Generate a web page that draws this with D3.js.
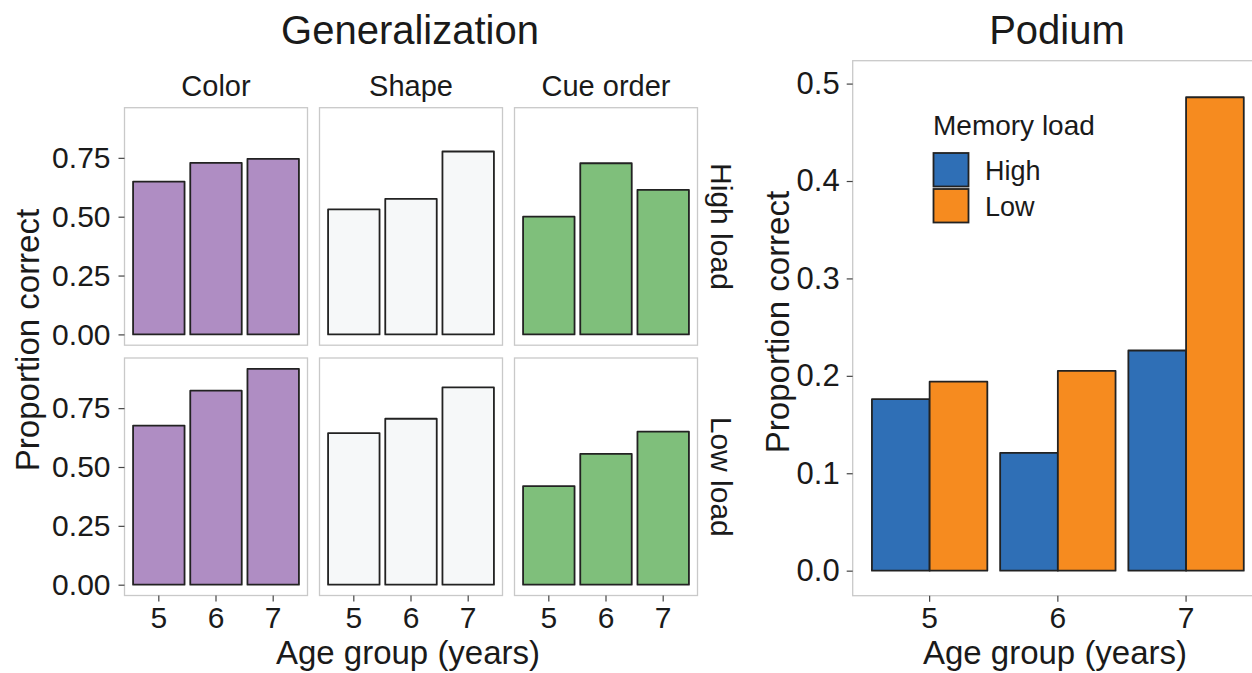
<!DOCTYPE html>
<html>
<head>
<meta charset="utf-8">
<script src="https://cdn.jsdelivr.net/npm/d3@7"></script>
<style>
  body { margin: 0; background: #fff; }
  svg { display: block; font-family: "Liberation Sans", Arial, Helvetica, sans-serif; }
  .tick text { fill: #1a1a1a; }
</style>
</head>
<body>
<svg id="chart" width="1252" height="673"></svg>
<script>
// ---------- data ----------
const ages = ["5", "6", "7"];
const tasks = ["Color", "Shape", "Cue order"];
const loads = ["High load", "Low load"];

const colorHigh = [0.649, 0.729, 0.746];
const colorLow  = [0.676, 0.824, 0.917];
const shapeHigh = [0.531, 0.576, 0.777];
const shapeLow  = [0.644, 0.705, 0.838];
const cueHigh   = [0.500, 0.727, 0.614];
const cueLow    = [0.419, 0.556, 0.650];

const memoryLoads = ["High", "Low"];
const podiumHigh = [0.176, 0.121, 0.226];
const podiumLow  = [0.194, 0.205, 0.486];

const genTicks = [0, 0.25, 0.5, 0.75];
const podTicks = [0, 0.1, 0.2, 0.3, 0.4, 0.5];

// ---------- styling ----------
const taskFill = { "Color": "#af8dc3", "Shape": "#f6f8f9", "Cue order": "#7fbf7b" };
const loadFill = { "High": "#2f6fb6", "Low": "#f68b1f" };
const barStroke = "#222";
const borderCol = "#c9c9c9";
const textCol = "#1a1a1a";

const genValues = {
  "Color":     { "High load": colorHigh, "Low load": colorLow },
  "Shape":     { "High load": shapeHigh, "Low load": shapeLow },
  "Cue order": { "High load": cueHigh,   "Low load": cueLow }
};

const svg = d3.select("#chart");

// ---------- Generalization facets ----------
const panelW = 183, panelH = 237.5;
const colX = [124.5, 319.5, 514.5];
const rowY = [107.7, 358];

const xGen = d3.scaleBand().domain(ages).range([0, panelW]).paddingInner(0.1).paddingOuter(0.15);
const yGen = d3.scaleLinear().domain([-0.0459, 0.963]).range([panelH, 0]);

tasks.forEach((task, i) => {
  loads.forEach((load, j) => {
    const g = svg.append("g").attr("transform", `translate(${colX[i]},${rowY[j]})`);
    g.append("rect").attr("x", 0).attr("y", 0).attr("width", panelW).attr("height", panelH)
      .attr("fill", "#fff").attr("stroke", borderCol).attr("stroke-width", 1.3);
    const vals = genValues[task][load];
    g.selectAll("rect.bar").data(ages).enter().append("rect").attr("class", "bar")
      .attr("x", d => xGen(d))
      .attr("width", xGen.bandwidth())
      .attr("y", (d, k) => yGen(vals[k]))
      .attr("height", (d, k) => yGen(0) - yGen(vals[k]))
      .attr("fill", taskFill[task])
      .attr("stroke", barStroke).attr("stroke-width", 1.8).attr("stroke-linejoin", "round");

    if (i === 0) {
      const ax = g.append("g").call(d3.axisLeft(yGen).tickValues(genTicks)
        .tickFormat(d3.format(".2f")).tickSize(6).tickPadding(8));
      ax.select(".domain").remove();
      ax.selectAll("line").attr("stroke", "#444").attr("stroke-width", 1.2);
      ax.selectAll("text").attr("font-size", 30).attr("fill", textCol);
    }
    if (j === 1) {
      const ax = g.append("g").attr("transform", `translate(0,${panelH})`)
        .call(d3.axisBottom(xGen).tickSize(6).tickPadding(5));
      ax.select(".domain").remove();
      ax.selectAll("line").attr("stroke", "#444").attr("stroke-width", 1.2);
      ax.selectAll("text").attr("font-size", 30).attr("fill", textCol);
    }
    if (j === 0) {
      g.append("text").attr("x", panelW / 2).attr("y", 96 - rowY[0])
        .attr("text-anchor", "middle").attr("font-size", 29).attr("fill", textCol).text(task);
    }
    if (i === 2) {
      g.append("text")
        .attr("transform", `translate(${711 - colX[2]},${panelH / 2}) rotate(90)`)
        .attr("text-anchor", "middle").attr("font-size", 30).attr("fill", textCol).text(load);
    }
  });
});

svg.append("text").attr("x", 410).attr("y", 43.5).attr("text-anchor", "middle")
  .attr("font-size", 40).attr("fill", textCol).text("Generalization");
svg.append("text").attr("transform", "translate(39,340) rotate(-90)")
  .attr("text-anchor", "middle").attr("font-size", 33).attr("fill", textCol).text("Proportion correct");
svg.append("text").attr("x", 408).attr("y", 664).attr("text-anchor", "middle")
  .attr("font-size", 33).attr("fill", textCol).text("Age group (years)");

// ---------- Podium ----------
const pX0 = 852.7, pX1 = 1263, pY0 = 60.7, pY1 = 595.7;
const xPod = d3.scaleBand().domain(ages).range([pX0, pX1]).paddingInner(0.1).paddingOuter(0.15);
const xSub = d3.scaleBand().domain(memoryLoads).range([0, xPod.bandwidth()]);
const yPod = d3.scaleLinear().domain([-0.0257, 0.5235]).range([pY1, pY0]);

svg.append("rect").attr("x", pX0).attr("y", pY0).attr("width", pX1 - pX0).attr("height", pY1 - pY0)
  .attr("fill", "#fff").attr("stroke", borderCol).attr("stroke-width", 1.3);

const podRows = [];
ages.forEach((a, k) => {
  podRows.push({ age: a, load: "High", v: podiumHigh[k] });
  podRows.push({ age: a, load: "Low", v: podiumLow[k] });
});
svg.append("g").selectAll("rect").data(podRows).enter().append("rect")
  .attr("x", d => xPod(d.age) + xSub(d.load))
  .attr("width", xSub.bandwidth())
  .attr("y", d => yPod(d.v))
  .attr("height", d => yPod(0) - yPod(d.v))
  .attr("fill", d => loadFill[d.load])
  .attr("stroke", barStroke).attr("stroke-width", 1.8).attr("stroke-linejoin", "round");

{
  const ay = svg.append("g").attr("transform", `translate(${pX0},0)`)
    .call(d3.axisLeft(yPod).tickValues(podTicks).tickFormat(d3.format(".1f")).tickSize(6).tickPadding(7));
  ay.select(".domain").remove();
  ay.selectAll("line").attr("stroke", "#444").attr("stroke-width", 1.2);
  ay.selectAll("text").attr("font-size", 31).attr("fill", textCol);

  const axb = svg.append("g").attr("transform", `translate(0,${pY1})`)
    .call(d3.axisBottom(xPod).tickSize(6).tickPadding(5));
  axb.select(".domain").remove();
  axb.selectAll("line").attr("stroke", "#444").attr("stroke-width", 1.2);
  axb.selectAll("text").attr("font-size", 30).attr("fill", textCol);
}

svg.append("text").attr("x", 1057).attr("y", 43.5).attr("text-anchor", "middle")
  .attr("font-size", 40).attr("fill", textCol).text("Podium");
svg.append("text").attr("transform", "translate(789,322) rotate(-90)")
  .attr("text-anchor", "middle").attr("font-size", 33).attr("fill", textCol).text("Proportion correct");
svg.append("text").attr("x", 1055).attr("y", 664).attr("text-anchor", "middle")
  .attr("font-size", 33).attr("fill", textCol).text("Age group (years)");

// legend
const lg = svg.append("g").attr("transform", "translate(933,0)");
lg.append("text").attr("x", 0).attr("y", 135).attr("font-size", 28).attr("fill", textCol).text("Memory load");
memoryLoads.forEach((m, k) => {
  lg.append("rect").attr("x", 0.5).attr("y", 153 + k * 36).attr("width", 35).attr("height", 33.5)
    .attr("fill", loadFill[m]).attr("stroke", barStroke).attr("stroke-width", 1.8);
  lg.append("text").attr("x", 52).attr("y", 180 + k * 36).attr("font-size", 27)
    .attr("fill", textCol).text(m);
});
</script>
</body>
</html>
